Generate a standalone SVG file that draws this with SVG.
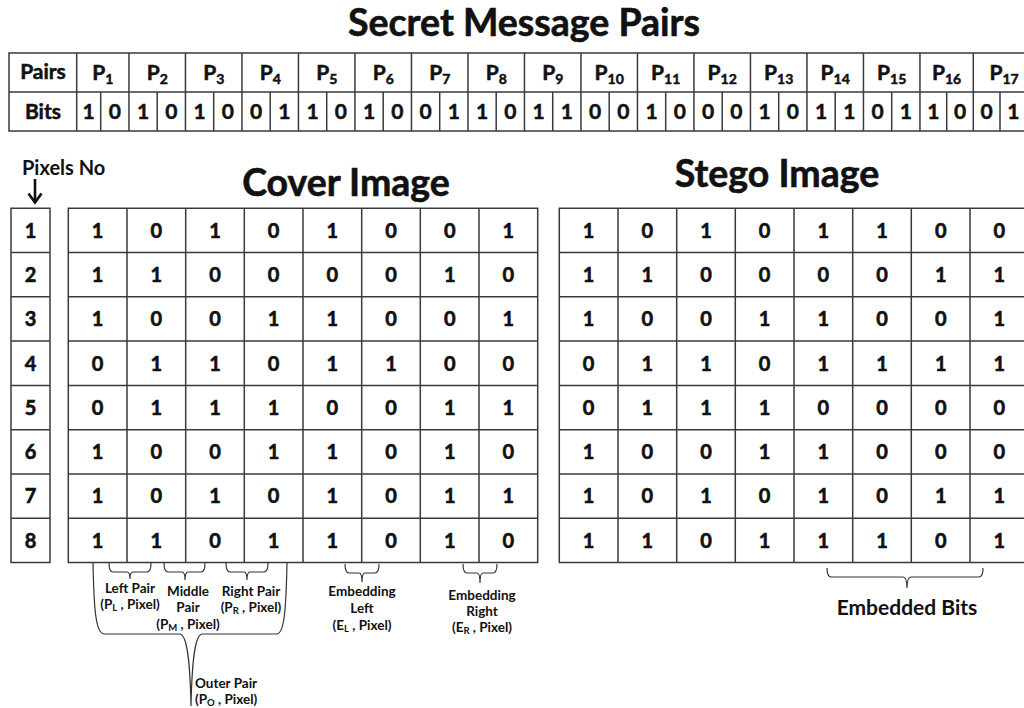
<svg xmlns="http://www.w3.org/2000/svg" width="1024" height="708" viewBox="0 0 1024 708">
<style>
text{font-family:Lato,"Open Sans","Liberation Sans",sans-serif;font-weight:bold;fill:#111}
.t{font-size:37.5px;text-anchor:middle;stroke:#111;stroke-width:0.6}
.h{font-size:21px;text-anchor:middle;stroke:#111;stroke-width:0.5}
.d{font-size:20px;text-anchor:middle;stroke:#111;stroke-width:0.6}
.s{font-size:14px}
.l{font-size:13.5px;text-anchor:middle}
.g{fill:none;stroke:#3a3a3a;stroke-width:1.5}
.b{fill:none;stroke:#333;stroke-width:1.2}
</style>
<rect width="1024" height="708" fill="#fff"/>
<g id="title"><text class="t" x="524" y="36">Secret Message Pairs</text></g>

<g id="secret-table">
<path class="g" d="M9,53H1030V131H9Z M9,92H1030 M76.7,53V131 M128.95,53V131 M185.45,53V131 M241.95,53V131 M298.45,53V131 M354.95,53V131 M411.45,53V131 M467.95,53V131 M524.45,53V131 M580.95,53V131 M637.45,53V131 M693.95,53V131 M750.45,53V131 M806.95,53V131 M863.45,53V131 M919.95,53V131 M973.3,53V131 M100.7,92V131 M157.2,92V131 M213.7,92V131 M270.2,92V131 M326.7,92V131 M383.2,92V131 M439.7,92V131 M496.2,92V131 M552.7,92V131 M609.2,92V131 M665.7,92V131 M722.2,92V131 M778.7,92V131 M835.2,92V131 M891.7,92V131 M946.7,92V131 M1000,92V131"/>
<text class="h" x="43" y="79">Pairs</text>
<text class="h" x="43" y="119">Bits</text>
<text class="h" x="102.8" y="80">P<tspan class="s" dy="4">1</tspan></text>
<text class="h" x="157.2" y="80">P<tspan class="s" dy="4">2</tspan></text>
<text class="h" x="213.7" y="80">P<tspan class="s" dy="4">3</tspan></text>
<text class="h" x="270.2" y="80">P<tspan class="s" dy="4">4</tspan></text>
<text class="h" x="326.7" y="80">P<tspan class="s" dy="4">5</tspan></text>
<text class="h" x="383.2" y="80">P<tspan class="s" dy="4">6</tspan></text>
<text class="h" x="439.7" y="80">P<tspan class="s" dy="4">7</tspan></text>
<text class="h" x="496.2" y="80">P<tspan class="s" dy="4">8</tspan></text>
<text class="h" x="552.7" y="80">P<tspan class="s" dy="4">9</tspan></text>
<text class="h" x="609.2" y="80">P<tspan class="s" dy="4">10</tspan></text>
<text class="h" x="665.7" y="80">P<tspan class="s" dy="4">11</tspan></text>
<text class="h" x="722.2" y="80">P<tspan class="s" dy="4">12</tspan></text>
<text class="h" x="778.7" y="80">P<tspan class="s" dy="4">13</tspan></text>
<text class="h" x="835.2" y="80">P<tspan class="s" dy="4">14</tspan></text>
<text class="h" x="891.7" y="80">P<tspan class="s" dy="4">15</tspan></text>
<text class="h" x="946.6" y="80">P<tspan class="s" dy="4">16</tspan></text>
<text class="h" x="1004" y="80">P<tspan class="s" dy="4">17</tspan></text>
<text class="h" x="88.7" y="119">1</text><text class="h" x="114.8" y="119">0</text>
<text class="h" x="143.1" y="119">1</text><text class="h" x="171.3" y="119">0</text>
<text class="h" x="199.6" y="119">1</text><text class="h" x="227.8" y="119">0</text>
<text class="h" x="256.1" y="119">0</text><text class="h" x="284.3" y="119">1</text>
<text class="h" x="312.6" y="119">1</text><text class="h" x="340.8" y="119">0</text>
<text class="h" x="369.1" y="119">1</text><text class="h" x="397.3" y="119">0</text>
<text class="h" x="425.6" y="119">0</text><text class="h" x="453.8" y="119">1</text>
<text class="h" x="482.1" y="119">1</text><text class="h" x="510.3" y="119">0</text>
<text class="h" x="538.6" y="119">1</text><text class="h" x="566.8" y="119">1</text>
<text class="h" x="595.1" y="119">0</text><text class="h" x="623.3" y="119">0</text>
<text class="h" x="651.6" y="119">1</text><text class="h" x="679.8" y="119">0</text>
<text class="h" x="708.1" y="119">0</text><text class="h" x="736.3" y="119">0</text>
<text class="h" x="764.6" y="119">1</text><text class="h" x="792.8" y="119">0</text>
<text class="h" x="821.1" y="119">1</text><text class="h" x="849.3" y="119">1</text>
<text class="h" x="877.6" y="119">0</text><text class="h" x="905.8" y="119">1</text>
<text class="h" x="933.3" y="119">1</text><text class="h" x="960" y="119">0</text>
<text class="h" x="986.7" y="119">0</text><text class="h" x="1013.3" y="119">1</text>
</g>

<g id="pixels-no">
<text x="22" y="175" style="font-size:20px">Pixels No</text>
<path d="M35,179V202 M28.5,193.5L35,202.5L41.5,193.5" fill="none" stroke="#111" stroke-width="2.6"/>
<path class="g" d="M11,208.3H50V562.5H11Z M11,252.6H50 M11,296.8H50 M11,341.1H50 M11,385.4H50 M11,429.7H50 M11,473.9H50 M11,518.2H50"/>
<text class="d" x="30.5" y="237.6">1</text>
<text class="d" x="30.5" y="281.9">2</text>
<text class="d" x="30.5" y="326.2">3</text>
<text class="d" x="30.5" y="370.5">4</text>
<text class="d" x="30.5" y="414.7">5</text>
<text class="d" x="30.5" y="459">6</text>
<text class="d" x="30.5" y="503.3">7</text>
<text class="d" x="30.5" y="547.6">8</text>
</g>

<g id="cover-image">
<text class="t" x="346" y="196">Cover Image</text>
<path class="g" d="M68.3,208.3H537.7V562.5H68.3Z M68.3,252.6H537.7 M68.3,296.8H537.7 M68.3,341.1H537.7 M68.3,385.4H537.7 M68.3,429.7H537.7 M68.3,473.9H537.7 M68.3,518.2H537.7 M127,208.3V562.5 M185.7,208.3V562.5 M244.3,208.3V562.5 M303,208.3V562.5 M361.7,208.3V562.5 M420.3,208.3V562.5 M479,208.3V562.5"/>
<text class="d" x="97.6" y="237.6">1</text><text class="d" x="156.3" y="237.6">0</text><text class="d" x="215" y="237.6">1</text><text class="d" x="273.6" y="237.6">0</text><text class="d" x="332.3" y="237.6">1</text><text class="d" x="391" y="237.6">0</text><text class="d" x="449.7" y="237.6">0</text><text class="d" x="508.3" y="237.6">1</text>
<text class="d" x="97.6" y="281.9">1</text><text class="d" x="156.3" y="281.9">1</text><text class="d" x="215" y="281.9">0</text><text class="d" x="273.6" y="281.9">0</text><text class="d" x="332.3" y="281.9">0</text><text class="d" x="391" y="281.9">0</text><text class="d" x="449.7" y="281.9">1</text><text class="d" x="508.3" y="281.9">0</text>
<text class="d" x="97.6" y="326.2">1</text><text class="d" x="156.3" y="326.2">0</text><text class="d" x="215" y="326.2">0</text><text class="d" x="273.6" y="326.2">1</text><text class="d" x="332.3" y="326.2">1</text><text class="d" x="391" y="326.2">0</text><text class="d" x="449.7" y="326.2">0</text><text class="d" x="508.3" y="326.2">1</text>
<text class="d" x="97.6" y="370.5">0</text><text class="d" x="156.3" y="370.5">1</text><text class="d" x="215" y="370.5">1</text><text class="d" x="273.6" y="370.5">0</text><text class="d" x="332.3" y="370.5">1</text><text class="d" x="391" y="370.5">1</text><text class="d" x="449.7" y="370.5">0</text><text class="d" x="508.3" y="370.5">0</text>
<text class="d" x="97.6" y="414.7">0</text><text class="d" x="156.3" y="414.7">1</text><text class="d" x="215" y="414.7">1</text><text class="d" x="273.6" y="414.7">1</text><text class="d" x="332.3" y="414.7">0</text><text class="d" x="391" y="414.7">0</text><text class="d" x="449.7" y="414.7">1</text><text class="d" x="508.3" y="414.7">1</text>
<text class="d" x="97.6" y="459">1</text><text class="d" x="156.3" y="459">0</text><text class="d" x="215" y="459">0</text><text class="d" x="273.6" y="459">1</text><text class="d" x="332.3" y="459">1</text><text class="d" x="391" y="459">0</text><text class="d" x="449.7" y="459">1</text><text class="d" x="508.3" y="459">0</text>
<text class="d" x="97.6" y="503.3">1</text><text class="d" x="156.3" y="503.3">0</text><text class="d" x="215" y="503.3">1</text><text class="d" x="273.6" y="503.3">0</text><text class="d" x="332.3" y="503.3">1</text><text class="d" x="391" y="503.3">0</text><text class="d" x="449.7" y="503.3">1</text><text class="d" x="508.3" y="503.3">1</text>
<text class="d" x="97.6" y="547.6">1</text><text class="d" x="156.3" y="547.6">1</text><text class="d" x="215" y="547.6">0</text><text class="d" x="273.6" y="547.6">1</text><text class="d" x="332.3" y="547.6">1</text><text class="d" x="391" y="547.6">0</text><text class="d" x="449.7" y="547.6">1</text><text class="d" x="508.3" y="547.6">0</text>
</g>

<g id="stego-image">
<text class="t" x="777" y="187">Stego Image</text>
<path class="g" d="M1030,208.3H559.3V562.5H1030 M559.3,252.6H1030 M559.3,296.8H1030 M559.3,341.1H1030 M559.3,385.4H1030 M559.3,429.7H1030 M559.3,473.9H1030 M559.3,518.2H1030 M618,208.3V562.5 M676.7,208.3V562.5 M735.3,208.3V562.5 M794,208.3V562.5 M852.7,208.3V562.5 M911.3,208.3V562.5 M970,208.3V562.5"/>
<text class="d" x="588.6" y="237.6">1</text><text class="d" x="647.3" y="237.6">0</text><text class="d" x="706" y="237.6">1</text><text class="d" x="764.6" y="237.6">0</text><text class="d" x="823.3" y="237.6">1</text><text class="d" x="882" y="237.6">1</text><text class="d" x="940.7" y="237.6">0</text><text class="d" x="999.3" y="237.6">0</text>
<text class="d" x="588.6" y="281.9">1</text><text class="d" x="647.3" y="281.9">1</text><text class="d" x="706" y="281.9">0</text><text class="d" x="764.6" y="281.9">0</text><text class="d" x="823.3" y="281.9">0</text><text class="d" x="882" y="281.9">0</text><text class="d" x="940.7" y="281.9">1</text><text class="d" x="999.3" y="281.9">1</text>
<text class="d" x="588.6" y="326.2">1</text><text class="d" x="647.3" y="326.2">0</text><text class="d" x="706" y="326.2">0</text><text class="d" x="764.6" y="326.2">1</text><text class="d" x="823.3" y="326.2">1</text><text class="d" x="882" y="326.2">0</text><text class="d" x="940.7" y="326.2">0</text><text class="d" x="999.3" y="326.2">1</text>
<text class="d" x="588.6" y="370.5">0</text><text class="d" x="647.3" y="370.5">1</text><text class="d" x="706" y="370.5">1</text><text class="d" x="764.6" y="370.5">0</text><text class="d" x="823.3" y="370.5">1</text><text class="d" x="882" y="370.5">1</text><text class="d" x="940.7" y="370.5">1</text><text class="d" x="999.3" y="370.5">1</text>
<text class="d" x="588.6" y="414.7">0</text><text class="d" x="647.3" y="414.7">1</text><text class="d" x="706" y="414.7">1</text><text class="d" x="764.6" y="414.7">1</text><text class="d" x="823.3" y="414.7">0</text><text class="d" x="882" y="414.7">0</text><text class="d" x="940.7" y="414.7">0</text><text class="d" x="999.3" y="414.7">0</text>
<text class="d" x="588.6" y="459">1</text><text class="d" x="647.3" y="459">0</text><text class="d" x="706" y="459">0</text><text class="d" x="764.6" y="459">1</text><text class="d" x="823.3" y="459">1</text><text class="d" x="882" y="459">0</text><text class="d" x="940.7" y="459">0</text><text class="d" x="999.3" y="459">0</text>
<text class="d" x="588.6" y="503.3">1</text><text class="d" x="647.3" y="503.3">0</text><text class="d" x="706" y="503.3">1</text><text class="d" x="764.6" y="503.3">0</text><text class="d" x="823.3" y="503.3">1</text><text class="d" x="882" y="503.3">0</text><text class="d" x="940.7" y="503.3">1</text><text class="d" x="999.3" y="503.3">1</text>
<text class="d" x="588.6" y="547.6">1</text><text class="d" x="647.3" y="547.6">1</text><text class="d" x="706" y="547.6">0</text><text class="d" x="764.6" y="547.6">1</text><text class="d" x="823.3" y="547.6">1</text><text class="d" x="882" y="547.6">1</text><text class="d" x="940.7" y="547.6">0</text><text class="d" x="999.3" y="547.6">1</text>
</g>

<g id="connectors">
<path class="b" d="M109,563Q109,572 113,572L127,572Q130,572 130,579Q130,572 133,572L147,572Q151,572 151,563"/>
<path class="b" d="M164,563Q164,572 168,572L182,572Q185,572 185,580Q185,572 188,572L201,572Q205,572 205,563"/>
<path class="b" d="M226,563Q226,572 230,572L244,572Q247,572 247,580Q247,572 250,572L264,572Q268,572 268,563"/>
<path class="b" d="M345,564Q345,573 349,573L359,573Q362,573 362,582Q362,573 365,573L375,573Q379,573 379,564"/>
<path class="b" d="M463,564Q463,573 467,573L477,573Q480,573 480,583Q480,573 483,573L493,573Q497,573 497,564"/>
<path class="b" d="M827,568Q827,577 831,577L903,577Q907,577 907,588Q907,577 911,577L979,577Q983,577 983,568"/>
<path class="b" d="M93,563C94,612 96,633 104,634L180,634C187,635 190,660 191,706C192,660 195,635 202,634L277,634C284,633 286,612 287,563"/>
</g>

<g id="labels">
<text class="l" x="130" y="593">Left Pair</text>
<text class="l" x="130" y="609">(P<tspan style="font-size:9.5px" dy="2">L</tspan><tspan dy="-2"> , Pixel)</tspan></text>
<text class="l" x="188" y="596">Middle</text>
<text class="l" x="188" y="612">Pair</text>
<text class="l" x="188" y="629">(P<tspan style="font-size:9.5px" dy="2">M</tspan><tspan dy="-2"> , Pixel)</tspan></text>
<text class="l" x="251" y="596">Right Pair</text>
<text class="l" x="251" y="612">(P<tspan style="font-size:9.5px" dy="2">R</tspan><tspan dy="-2"> , Pixel)</tspan></text>
<text class="l" x="362" y="596">Embedding</text>
<text class="l" x="362" y="613">Left</text>
<text class="l" x="362" y="630">(E<tspan style="font-size:9.5px" dy="2">L</tspan><tspan dy="-2"> , Pixel)</tspan></text>
<text class="l" x="482" y="600">Embedding</text>
<text class="l" x="482" y="616">Right</text>
<text class="l" x="482" y="632">(E<tspan style="font-size:9.5px" dy="2">R</tspan><tspan dy="-2"> , Pixel)</tspan></text>
<text x="195" y="688" style="font-size:13.5px">Outer Pair</text>
<text x="195" y="704" style="font-size:13.5px">(P<tspan style="font-size:9.5px" dy="2">O</tspan><tspan dy="-2"> , Pixel)</tspan></text>
<text x="907" y="615" style="font-size:21px;text-anchor:middle">Embedded Bits</text>
</g>
</svg>
